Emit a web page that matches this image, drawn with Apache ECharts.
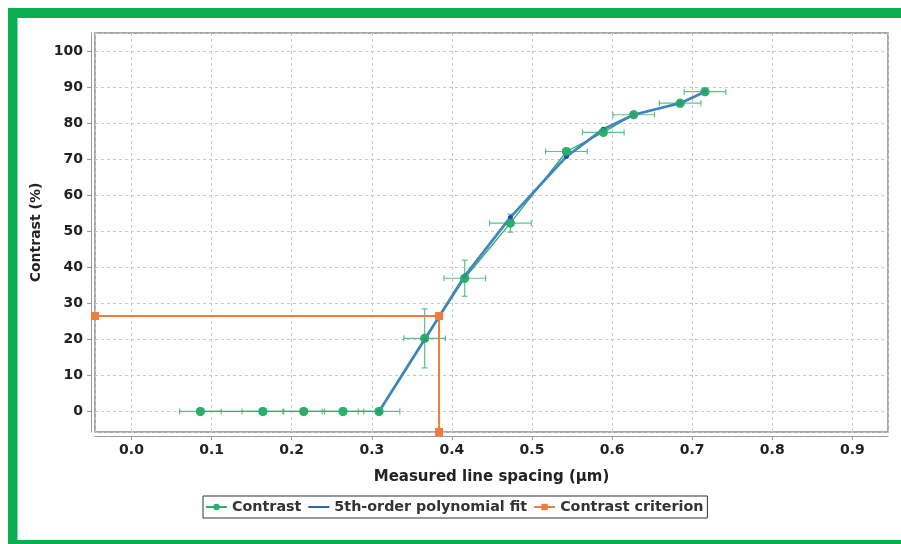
<!DOCTYPE html>
<html>
<head>
<meta charset="utf-8">
<script src="https://cdn.jsdelivr.net/npm/echarts@6/dist/echarts.min.js"></script>
<style>
html,body{margin:0;padding:0;background:#fff;}
#chart{width:901px;height:544px;}
</style>
</head>
<body>
<div id="chart"></div>
<script>
// ---- data ----
const contrastX = [0.086, 0.164, 0.215, 0.264, 0.309, 0.366, 0.416, 0.473, 0.543, 0.589, 0.627, 0.685, 0.716];
const contrastY = [0, 0, 0, 0, 0, 20.3, 37.0, 52.3, 72.2, 77.5, 82.4, 85.6, 88.8];
const contrastXErr = [0.026, 0.026, 0.026, 0.026, 0.026, 0.026, 0.026, 0.026, 0.026, 0.026, 0.026, 0.026, 0.026];
const contrastYErr = [0, 0, 0, 0, 0, 8.2, 5.0, 2.5, 0.8, 0.8, 0.5, 0.5, 0.5];
const fitX = [0.309, 0.366, 0.416, 0.473, 0.543, 0.589, 0.627, 0.685, 0.716];
const fitY = [0, 20.0, 37.6, 53.9, 70.8, 78.4, 82.4, 85.6, 88.8];
const criterionX = [-0.0456, 0.384, 0.384];
const criterionY = [26.5, 26.5, -5.7];
const xRange = [-0.0456, 0.9445];
const yRange = [-5.7, 105.1];
const seriesNames = ['Contrast', '5th-order polynomial fit', 'Contrast criterion'];
const xTitle = 'Measured line spacing (µm)';
const yTitle = 'Contrast (%)';

const zip = (a, b) => a.map((v, i) => [v, b[i]]);
const errData = contrastX.map((x, i) => [x, contrastY[i], contrastXErr[i], contrastYErr[i]]);

const FONT = "'DejaVu Sans', sans-serif";
const GREEN = '#2bb06a';
const BLUE = '#3b82bd';
const ORANGE = '#ee7c3a';

const chart = echarts.init(document.getElementById('chart'), null, {renderer: 'canvas'});

const option = {
  animation: false,
  backgroundColor: '#fff',
  graphic: [
    {type: 'rect', shape: {x: 8, y: 8, width: 893, height: 10}, style: {fill: '#0aad50'}, z: 100},
    {type: 'rect', shape: {x: 8, y: 8, width: 9.5, height: 536}, style: {fill: '#0aad50'}, z: 100},
    {type: 'rect', shape: {x: 8, y: 540, width: 893, height: 4}, style: {fill: '#0aad50'}, z: 100}
  ],
  grid: {
    left: 95, top: 33, width: 793, height: 399,
    show: true, borderColor: '#8a8a8a', borderWidth: 1.5, backgroundColor: '#fff'
  },
  xAxis: {
    type: 'value', min: xRange[0], max: xRange[1], splitNumber: 10,
    offset: 4,
    name: xTitle, nameLocation: 'middle', nameGap: 34,
    nameTextStyle: {fontFamily: FONT, fontWeight: 'bold', fontSize: 15, color: '#222'},
    axisLine: {show: true, onZero: false, lineStyle: {color: '#9a9a9a', width: 1}},
    axisTick: {show: true, length: 4, lineStyle: {color: '#9a9a9a'}},
    axisLabel: {
      fontFamily: FONT, fontWeight: 'bold', fontSize: 14, color: '#222', margin: 7,
      showMinLabel: false, showMaxLabel: false,
      formatter: v => v.toFixed(1)
    },
    splitLine: {show: true, lineStyle: {color: '#c8c8c8', type: [3, 3], width: 1}}
  },
  yAxis: {
    type: 'value', min: yRange[0], max: yRange[1], splitNumber: 11,
    offset: 4,
    name: yTitle, nameLocation: 'middle', nameGap: 42, nameRotate: 90,
    nameTextStyle: {fontFamily: FONT, fontWeight: 'bold', fontSize: 14, color: '#222'},
    axisLine: {show: true, onZero: false, lineStyle: {color: '#9a9a9a', width: 1}},
    axisTick: {show: true, length: 4, lineStyle: {color: '#9a9a9a'}},
    axisLabel: {
      fontFamily: FONT, fontWeight: 'bold', fontSize: 14, color: '#222', margin: 8,
      showMinLabel: false, showMaxLabel: false
    },
    splitLine: {show: true, lineStyle: {color: '#c8c8c8', type: [3, 3], width: 1}}
  },
  legend: {
    data: [
      {name: seriesNames[0]},
      {name: seriesNames[1], itemStyle: {opacity: 0}, lineStyle: {color: '#2f62b8', opacity: 1, width: 2}},
      {name: seriesNames[2]}
    ],
    left: 203, top: 496,
    orient: 'horizontal',
    borderColor: '#333', borderWidth: 1, padding: [4, 4, 4, 2],
    itemGap: 6, itemWidth: 21, itemHeight: 8,
    textStyle: {fontFamily: FONT, fontWeight: 'bold', fontSize: 14.3, color: '#333'}
  },
  series: [
    {
      name: seriesNames[0] + ' error',
      type: 'custom',
      data: errData,
      clip: true,
      z: 1,
      silent: true,
      renderItem: function (params, api) {
        const x = api.value(0), y = api.value(1), ex = api.value(2), ey = api.value(3);
        const l = api.coord([x - ex, y]);
        const r = api.coord([x + ex, y]);
        const children = [];
        const st = {stroke: '#3dba78', lineWidth: 1.2, opacity: 0.85};
        children.push({type: 'line', shape: {x1: l[0], y1: l[1], x2: r[0], y2: r[1]}, style: st});
        children.push({type: 'line', shape: {x1: l[0], y1: l[1] - 3, x2: l[0], y2: l[1] + 3}, style: st});
        children.push({type: 'line', shape: {x1: r[0], y1: r[1] - 3, x2: r[0], y2: r[1] + 3}, style: st});
        if (ey > 0) {
          const t = api.coord([x, y + ey]);
          const b = api.coord([x, y - ey]);
          children.push({type: 'line', shape: {x1: t[0], y1: t[1], x2: b[0], y2: b[1]}, style: st});
          children.push({type: 'line', shape: {x1: t[0] - 3, y1: t[1], x2: t[0] + 3, y2: t[1]}, style: st});
          children.push({type: 'line', shape: {x1: b[0] - 3, y1: b[1], x2: b[0] + 3, y2: b[1]}, style: st});
        }
        return {type: 'group', children: children};
      }
    },
    {
      name: seriesNames[0],
      type: 'line',
      data: zip(contrastX, contrastY),
      symbol: 'circle', symbolSize: 9,
      z: 3,
      itemStyle: {color: GREEN},
      lineStyle: {color: GREEN, width: 1.3}
    },
    {
      name: seriesNames[1],
      type: 'line',
      data: zip(fitX, fitY),
      symbol: 'circle', symbolSize: 5,
      z: 4,
      itemStyle: {color: '#1f4fa8'},
      lineStyle: {color: BLUE, width: 2.8, opacity: 0.95}
    },
    {
      name: seriesNames[0] + ' points',
      type: 'scatter',
      data: zip(contrastX, contrastY),
      symbol: 'circle', symbolSize: 9,
      z: 6,
      silent: true,
      itemStyle: {color: GREEN}
    },
    {
      name: seriesNames[2],
      type: 'line',
      data: zip(criterionX, criterionY),
      symbol: 'rect', symbolSize: 8,
      clip: false,
      z: 7,
      itemStyle: {color: ORANGE},
      lineStyle: {color: ORANGE, width: 2}
    }
  ]
};
chart.setOption(option);
</script>
</body>
</html>
